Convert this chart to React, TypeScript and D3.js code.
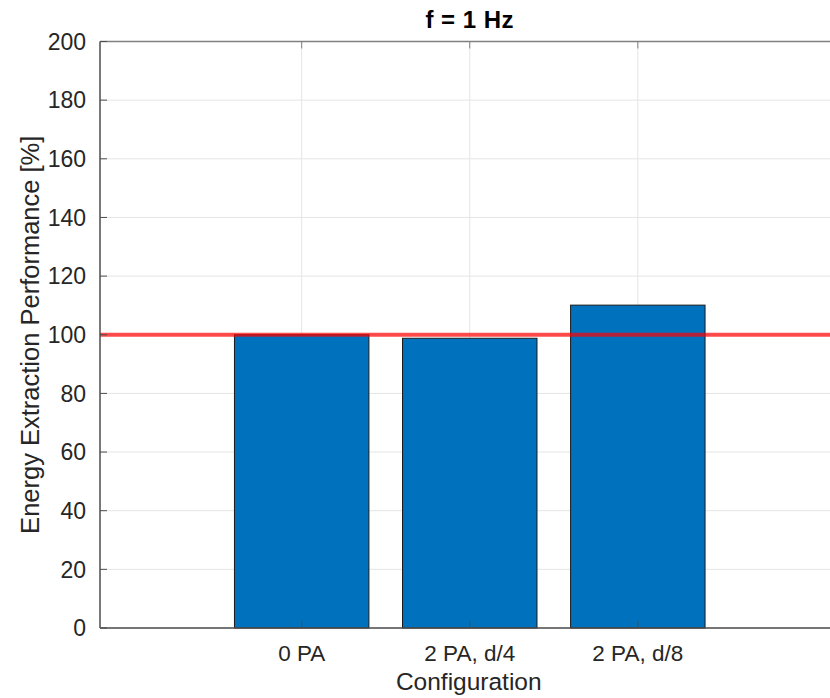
import React from "react";
import * as d3 from "d3";

const categories = ["0 PA", "2 PA, d/4", "2 PA, d/8"];
const performance = [100, 98.8, 110.1];
const yTicks = [0, 20, 40, 60, 80, 100, 120, 140, 160, 180, 200];
const referenceLevel = [100];

const W = 830;
const H = 698;
const left = 100;
const top = 41.5;
const bottom = 628;
const right = 839.5;

export default function App() {
  const x = d3.scaleLinear().domain([-0.2, 4.2]).range([left, right]);
  const y = d3.scaleLinear().domain([0, 200]).range([bottom, top]);
  const barW = (x(1) - x(0)) * 0.8;
  const font = "'Liberation Sans', Arial, sans-serif";
  const axisColor = "#4d4d4d";
  const textColor = "#262626";

  return (
    <svg
      width={W}
      height={H}
      style={{ position: "absolute", left: 0, top: 0, background: "#fff" }}
      fontFamily={font}
    >
      <rect x={0} y={0} width={W} height={H} fill="#fff" />
      {/* grid */}
      {yTicks.map((t) => (
        <line key={"gy" + t} x1={left} x2={W} y1={y(t)} y2={y(t)} stroke="#e5e5e5" strokeWidth={1} />
      ))}
      {categories.map((c, i) => (
        <line key={"gx" + c} x1={x(i + 1)} x2={x(i + 1)} y1={top} y2={bottom} stroke="#e5e5e5" strokeWidth={1} />
      ))}
      {/* bars */}
      {performance.map((v, i) => (
        <rect
          key={"b" + i}
          x={x(i + 1) - barW / 2}
          y={y(v)}
          width={barW}
          height={y(0) - y(v)}
          fill="#0072BD"
          stroke="#1a1a1a"
          strokeWidth={1}
        />
      ))}
      {/* reference line */}
      {referenceLevel.map((r) => (
        <line key={"r" + r} x1={left} x2={W} y1={y(r)} y2={y(r)} stroke="rgba(255,0,0,0.7)" strokeWidth={4} />
      ))}
      {/* axes box */}
      <line x1={left} x2={W} y1={top} y2={top} stroke="#808080" strokeWidth={1.5} />
      <line x1={left} x2={W} y1={bottom} y2={bottom} stroke={axisColor} strokeWidth={1.5} />
      <line x1={left} x2={left} y1={top} y2={bottom} stroke={axisColor} strokeWidth={1.5} />
      {/* y ticks */}
      {yTicks.map((t) => (
        <g key={"yt" + t}>
          <line x1={left} x2={left + 7} y1={y(t)} y2={y(t)} stroke={axisColor} strokeWidth={1} />
          <text x={left - 14} y={y(t)} dy="0.36em" textAnchor="end" fontSize={23} fill={textColor}>
            {t}
          </text>
        </g>
      ))}
      {/* x ticks */}
      {categories.map((c, i) => (
        <g key={"xt" + c}>
          <line x1={x(i + 1)} x2={x(i + 1)} y1={bottom} y2={bottom - 7} stroke={axisColor} strokeWidth={1} />
          <line x1={x(i + 1)} x2={x(i + 1)} y1={top} y2={top + 7} stroke="#808080" strokeWidth={1} />
          <text x={x(i + 1)} y={661} textAnchor="middle" fontSize={22.5} fill={textColor}>
            {c}
          </text>
        </g>
      ))}
      <text x={(left + right) / 2 - 1} y={690} textAnchor="middle" fontSize={24.5} fill={textColor}>
        Configuration
      </text>
      <text
        transform={`translate(39, ${(top + bottom) / 2}) rotate(-90)`}
        textAnchor="middle"
        fontSize={25.5}
        fill={textColor}
      >
        Energy Extraction Performance [%]
      </text>
      <text x={(left + right) / 2} y={28} textAnchor="middle" fontSize={24} fontWeight="bold" fill="#000" letterSpacing={0.5}>
        f = 1 Hz
      </text>
    </svg>
  );
}
